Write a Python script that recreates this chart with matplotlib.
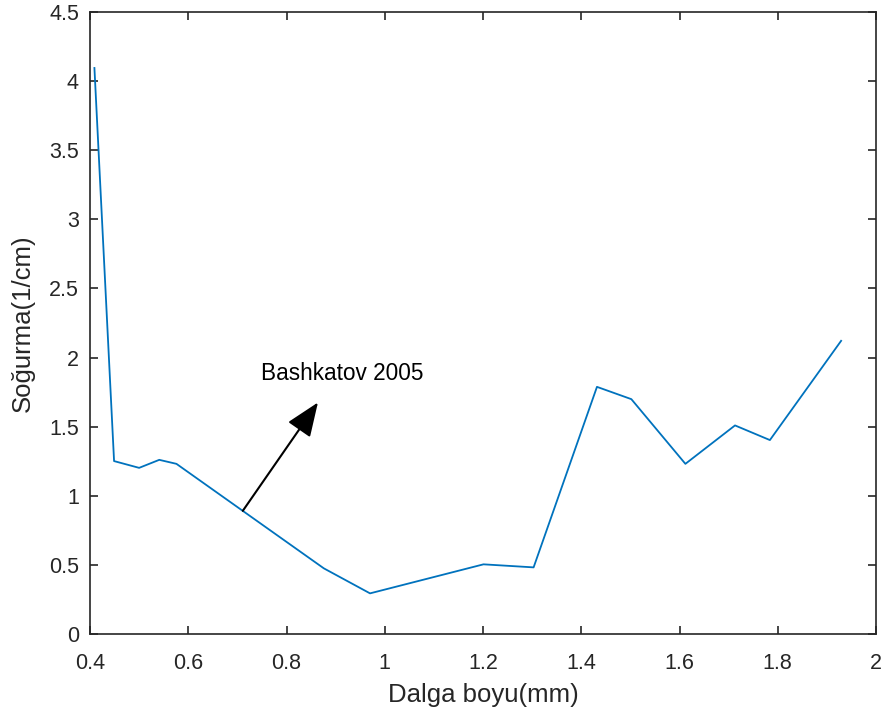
import numpy as np
import matplotlib
matplotlib.use("Agg")
import matplotlib.pyplot as plt

# data
wavelength = [0.409, 0.449, 0.500, 0.541, 0.576, 0.876, 0.970, 1.201, 1.303,
              1.432, 1.502, 1.612, 1.713, 1.784, 1.929]
absorption = [4.095, 1.251, 1.202, 1.260, 1.231, 0.475, 0.294, 0.504, 0.482,
              1.788, 1.699, 1.231, 1.509, 1.403, 2.121]
xticks = [0.4, 0.6, 0.8, 1.0, 1.2, 1.4, 1.6, 1.8, 2.0]
xticklabels = ["0.4", "0.6", "0.8", "1", "1.2", "1.4", "1.6", "1.8", "2"]
yticks = [0, 0.5, 1, 1.5, 2, 2.5, 3, 3.5, 4, 4.5]
yticklabels = ["0", "0.5", "1", "1.5", "2", "2.5", "3", "3.5", "4", "4.5"]

plt.rcParams['font.family'] = ['Liberation Sans', 'DejaVu Sans']
grey = '#262626'

fig = plt.figure(figsize=(8.84, 7.17), dpi=100)
ax = fig.add_axes([90 / 884, 1 - 634 / 717, 786 / 884, 622 / 717])

ax.plot(wavelength, absorption, color='#0072BD', lw=1.3)

ax.set_xlim(0.4, 2.0)
ax.set_ylim(0, 4.5)
ax.set_xticks(xticks)
ax.set_xticklabels(xticklabels)
ax.set_yticks(yticks)
ax.set_yticklabels(yticklabels)
ax.tick_params(direction='in', top=True, right=True, labelsize=15.5,
               colors=grey, length=6, width=1.2)
ax.tick_params(axis='x', pad=13.5)
ax.tick_params(axis='y', pad=8)
for s in ax.spines.values():
    s.set_color(grey)
    s.set_linewidth(1.2)

ax.set_xlabel('Dalga boyu(mm)', fontsize=18.5, color=grey, labelpad=7)
ax.set_ylabel('Soğurma(1/cm)', fontsize=18.5, color=grey, labelpad=10)

ax.annotate('', xy=(0.864, 1.675), xytext=(0.711, 0.891),
            arrowprops=dict(arrowstyle='-|>,head_length=1.05,head_width=0.42',
                            mutation_scale=20, color='black', lw=1.5,
                            shrinkA=0, shrinkB=0))
ax.text(0.749, 1.887, 'Bashkatov 2005', fontsize=16.3, color='black',
        ha='left', va='center')

fig.savefig('out.png', dpi=100)
